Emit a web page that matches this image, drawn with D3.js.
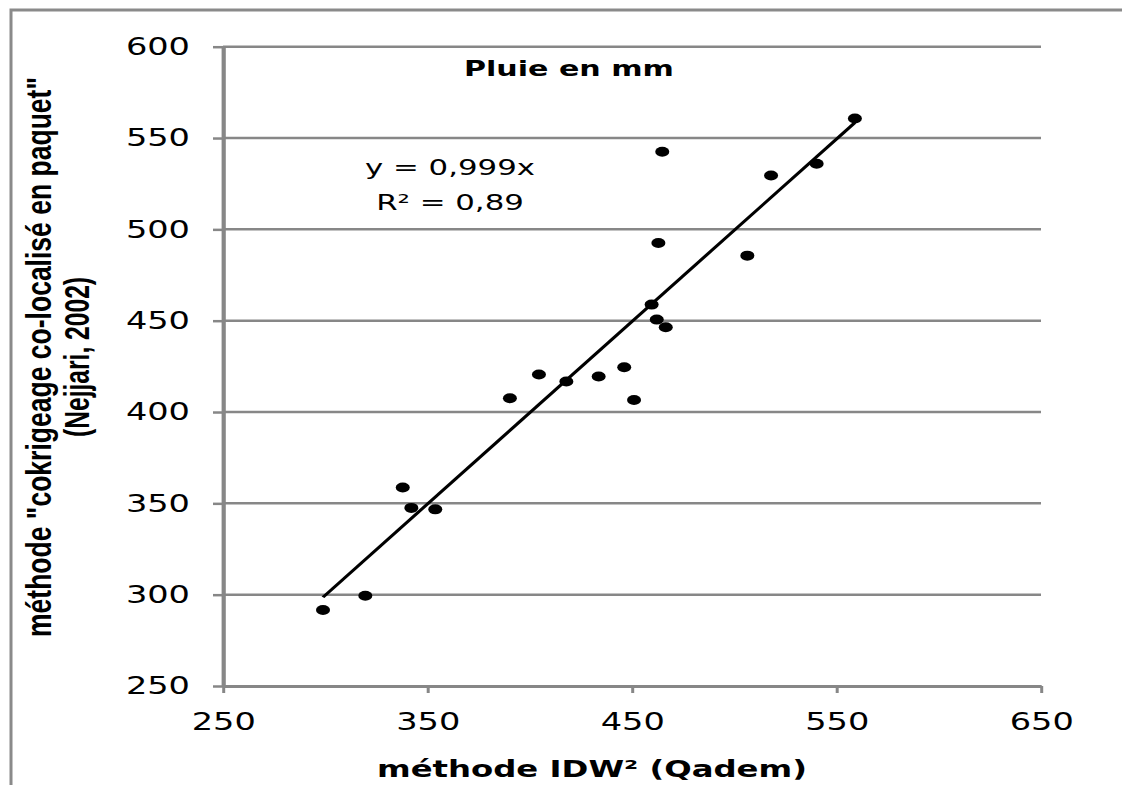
<!DOCTYPE html>
<html>
<head>
<meta charset="utf-8">
<script src="https://cdn.jsdelivr.net/npm/d3@7"></script>
<style>
  html, body { margin: 0; padding: 0; background: #fff; }
  svg { display: block; }
</style>
</head>
<body>
<svg id="chart" width="1122" height="785"></svg>
<script>
// ---- data ----
const idwValues   = [298.9, 319.6, 337.9, 342.1, 353.8, 390.3, 404.5, 417.9, 433.7, 446.2, 451.0, 459.6, 462.1, 466.5, 464.8, 462.9, 506.4, 518.0, 540.3, 559.0];
const cokrigValues = [291.6, 299.4, 358.7, 347.5, 346.7, 407.5, 420.5, 416.7, 419.4, 424.5, 406.6, 458.8, 450.6, 446.4, 542.5, 492.5, 485.6, 529.5, 535.9, 560.7];
const xTicks = [250, 350, 450, 550, 650];
const yTicks = [250, 300, 350, 400, 450, 500, 550, 600];
const trendSlope = 0.999;
const chartTitle = "Pluie en mm";
const eqLines = ["y = 0,999x", "R² = 0,89"];
const xTitle = "méthode IDW² (Qadem)";
const yTitleLines = ["méthode \"cokrigeage co-localisé en paquet\"", "(Nejjari, 2002)"];

// ---- layout ----
const sx = 1.4; // horizontal stretch of the whole picture
const grid = "#878787";
const svg = d3.select("#chart");

// outer frame
svg.append("rect").attr("x", 11).attr("y", 10).attr("width", 1300).attr("height", 1000)
  .attr("fill", "none").attr("stroke", "#8a8a8a").attr("stroke-width", 3);

const g = svg.append("g").attr("transform", `scale(${sx},1)`);

const x = d3.scaleLinear().domain([250, 650]).range([223 / sx, 1041 / sx]);
const y = d3.scaleLinear().domain([250, 600]).range([686, 46.7]);

// gridlines
g.append("g").selectAll("line").data(yTicks.filter(v => v > 250)).join("line")
  .attr("x1", x(250)).attr("x2", x(650))
  .attr("y1", d => y(d)).attr("y2", d => y(d))
  .attr("stroke", grid).attr("stroke-width", 2.5);

// y axis
const yAxis = g.append("g").attr("transform", `translate(${x(250)},0)`)
  .call(d3.axisLeft(y).tickValues(yTicks).tickSize(10 / sx).tickSizeOuter(0).tickPadding(33 / sx - 10 / sx));
yAxis.select(".domain").attr("stroke", grid).attr("stroke-width", 3);
yAxis.selectAll(".tick line").attr("stroke", grid).attr("stroke-width", 2.5);
yAxis.selectAll(".tick text").attr("font-family", "DejaVu Sans").attr("font-size", 24).attr("fill", "#000");

// x axis
const xAxis = g.append("g").attr("transform", `translate(0,${y(250)})`)
  .call(d3.axisBottom(x).tickValues(xTicks).tickSize(7).tickSizeOuter(0).tickPadding(20));
xAxis.select(".domain").attr("stroke", grid).attr("stroke-width", 3);
xAxis.selectAll(".tick line").attr("stroke", grid).attr("stroke-width", 3 / sx);
xAxis.selectAll(".tick text").attr("font-family", "DejaVu Sans").attr("font-size", 24).attr("fill", "#000");

// trend line y = 0.999x over the data range
const xMin = d3.min(idwValues), xMax = d3.max(idwValues);
g.append("line")
  .attr("x1", x(xMin)).attr("y1", y(trendSlope * xMin))
  .attr("x2", x(xMax)).attr("y2", y(trendSlope * xMax))
  .attr("stroke", "#000").attr("stroke-width", 2.6);

// points
const pts = idwValues.map((v, i) => ({ x: v, y: cokrigValues[i] }));
g.append("g").selectAll("circle").data(pts).join("circle")
  .attr("cx", d => x(d.x)).attr("cy", d => y(d.y)).attr("r", 5).attr("fill", "#000");

// chart title
g.append("text").attr("x", 464 / sx).attr("y", 76)
  .attr("font-family", "DejaVu Sans").attr("font-weight", "bold").attr("font-size", 21.5)
  .text(chartTitle);

// equation
g.append("g").selectAll("text").data(eqLines).join("text")
  .attr("x", 450 / sx).attr("y", (d, i) => 175 + i * 35)
  .attr("text-anchor", "middle")
  .attr("font-family", "DejaVu Sans").attr("font-size", 22)
  .text(d => d);

// x title
g.append("text").attr("x", 592 / sx).attr("y", 777)
  .attr("text-anchor", "middle")
  .attr("font-family", "DejaVu Sans").attr("font-weight", "bold").attr("font-size", 23)
  .attr("textLength", 430 / sx).attr("lengthAdjust", "spacingAndGlyphs")
  .text(xTitle);

// y title
const yTitleLen = [560, 160];
const yt = g.append("g").attr("transform", `translate(${51 / sx},357) rotate(-90)`);
yt.selectAll("text").data(yTitleLines).join("text")
  .attr("x", 0).attr("y", (d, i) => i * 38 / sx)
  .attr("text-anchor", "middle")
  .attr("font-family", "Liberation Sans").attr("font-weight", "bold").attr("font-size", 25)
  .attr("textLength", (d, i) => yTitleLen[i]).attr("lengthAdjust", "spacingAndGlyphs")
  .text(d => d);
</script>
</body>
</html>
